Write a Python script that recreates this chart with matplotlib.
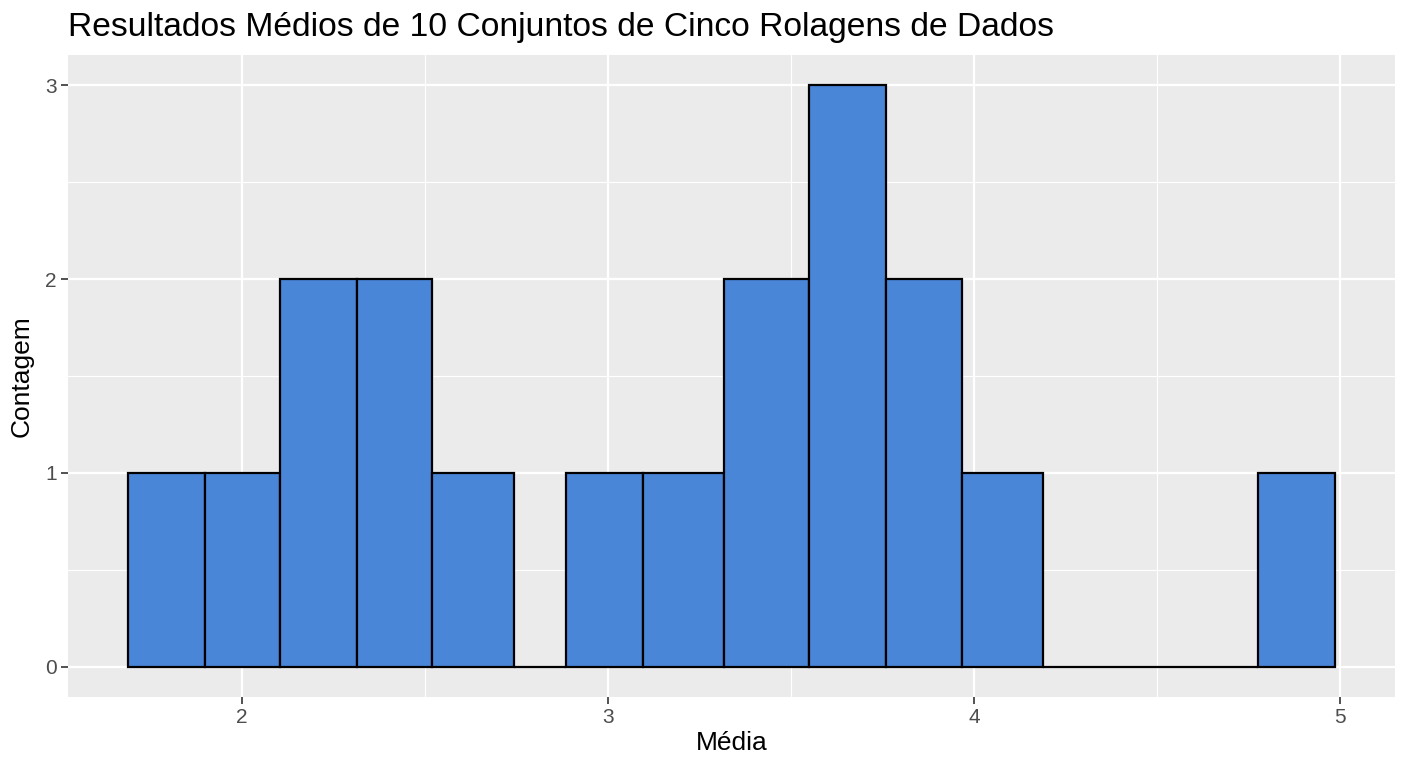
import matplotlib
matplotlib.use("Agg")
import matplotlib.pyplot as plt
import numpy as np

# Data: histogram bin edges and counts
bin_edges = [1.691, 1.899, 2.106, 2.314, 2.521, 2.743, 2.887, 3.095, 3.316,
             3.548, 3.758, 3.968, 4.187, 4.774, 4.984]
counts = [1, 1, 2, 2, 1, 0, 1, 1, 2, 3, 2, 1, 0, 1]

x_ticks = [2, 3, 4, 5]
y_ticks = [0, 1, 2, 3]
title = "Resultados Médios de 10 Conjuntos de Cinco Rolagens de Dados"
xlabel = "Média"
ylabel = "Contagem"

plt.rcParams['font.family'] = ['Liberation Sans', 'DejaVu Sans']

fig = plt.figure(figsize=(14.08, 7.68), dpi=100)
ax = fig.add_axes([68/1408, 1-697/768, (1395-68)/1408, (697-55)/768])
ax.set_facecolor("#EBEBEB")

edges = np.array(bin_edges)
lefts = edges[:-1]
widths = np.diff(edges)
ax.bar(lefts, counts, width=widths, align="edge", color="#4A86D8",
       edgecolor="black", linewidth=1.6, zorder=3)

ax.set_xlim(1.526, 5.149)
ax.set_ylim(-0.155, 3.155)
ax.set_xticks(x_ticks)
ax.set_yticks(y_ticks)
ax.set_xticks([2.5, 3.5, 4.5], minor=True)
ax.set_yticks([0.5, 1.5, 2.5], minor=True)
ax.grid(which="major", color="white", linewidth=1.6, zorder=0)
ax.grid(which="minor", color="white", linewidth=0.8, zorder=0)
ax.set_axisbelow(True)
for s in ax.spines.values():
    s.set_visible(False)
ax.tick_params(which="major", length=5, width=1.2, color="#333333",
               labelsize=15, labelcolor="#4D4D4D", pad=3)
ax.tick_params(which="minor", length=0)

ax.set_xlabel(xlabel, fontsize=19, color="black", labelpad=3)
ax.set_ylabel(ylabel, fontsize=19, color="black", labelpad=8)
fig.text(68/1408, 1-36/768, title, fontsize=24.2, color="black", ha="left",
         va="baseline")

fig.savefig("out.png", dpi=100)
